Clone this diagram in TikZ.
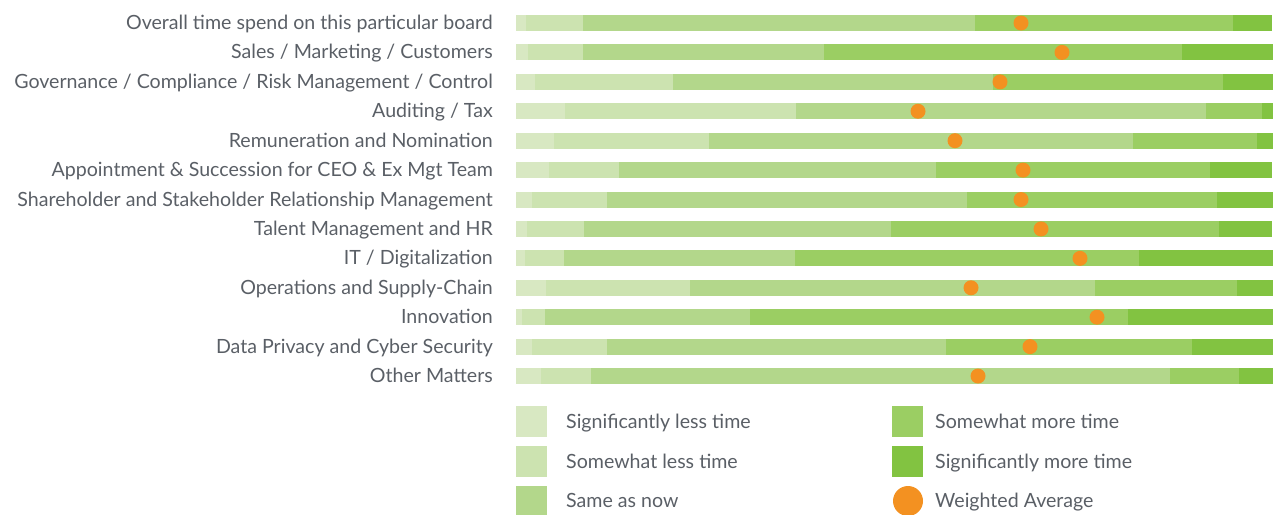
\documentclass[tikz,border=0pt]{standalone}
\usepackage{fontspec}
\setmainfont{Lato}
\usetikzlibrary{positioning}

\definecolor{sigless}{HTML}{D8E8C2}
\definecolor{someless}{HTML}{CCE3B0}
\definecolor{samenow}{HTML}{B3D78B}
\definecolor{somemore}{HTML}{9BCE63}
\definecolor{sigmore}{HTML}{82C341}
\definecolor{avgorange}{HTML}{F39121}
\definecolor{labelgray}{HTML}{5A5F66}

\begin{document}
\begin{tikzpicture}[x=1pt,y=-1pt,
	rowlabel/.style={anchor=base east,inner sep=0,text=labelgray,font=\fontsize{19.6}{21}\selectfont},
	legtext/.style={anchor=base west,inner sep=0,text=labelgray,font=\fontsize{19.6}{21}\selectfont},
	avgdot/.style={circle,fill=avgorange,inner sep=0,minimum size=15pt},
	legkey/.style={inner sep=0,minimum size=31pt}]
	\useasboundingbox (0,0) rectangle (1279,514);
	\clip (0,0) rectangle (1279,514);

	% one bar per topic: ends of the five parts, then the weighted average
	\foreach \i/\lbl/\a/\b/\c/\d/\e/\avg in {
		1/{Overall time spend on this particular board}/526/583/975/1233/1272/1021,
		2/{Sales / Marketing / Customers}/528/583/824/1182/1273/1062,
		3/{Governance / Compliance / Risk Management / Control}/535/673/993/1223/1273/1000,
		4/{Auditing / Tax}/565/796/1206/1262/1273/918,
		5/{Remuneration and Nomination}/554/709/1133/1257/1273/955,
		6/{Appointment \& Succession for CEO \& Ex Mgt Team}/549/619/936/1210/1272/1023,
		7/{Shareholder and Stakeholder Relationship Management}/532/607/967/1217/1273/1021,
		8/{Talent Management and HR}/527/584/891/1219/1272/1041,
		9/{IT / Digitalization}/525/564/795/1139/1273/1080,
		10/{Operations and Supply-Chain}/546/690/1095/1237/1273/971,
		11/{Innovation}/522/545/750/1128/1273/1097,
		12/{Data Privacy and Cyber Security}/532/607/946/1192/1273/1030,
		13/{Other Matters}/541/591/1170/1239/1273/978}
	{
		\pgfmathsetmacro\y{23+29.42*(\i-1)}
		\fill[sigless] (516,\y-8) rectangle (\a,\y+8);
		\fill[someless] (\a,\y-8) rectangle (\b,\y+8);
		\fill[samenow] (\b,\y-8) rectangle (\c,\y+8);
		\fill[somemore] (\c,\y-8) rectangle (\d,\y+8);
		\fill[sigmore] (\d,\y-8) rectangle (\e,\y+8);
		\node[rowlabel] (lbl\i) at (493,\y+6.5) {\lbl};
		\node[avgdot] (avg\i) at (\avg,\y) {};
	}

	% legend
	\node[legkey,fill=sigless] (keysl) at (531.5,421.5) {};
	\node[legkey,fill=someless] (keywl) at (531.5,461.5) {};
	\node[legkey,fill=samenow] (keysame) at (531.5,501.5) {};
	\node[legkey,fill=somemore] (keywm) at (907.5,421.5) {};
	\node[legkey,fill=sigmore] (keysm) at (907.5,461.5) {};
	\node[avgdot,minimum size=30pt] (keyavg) at (908,501) {};

	\node[legtext] (txtsl) at (566,428) {Significantly less time};
	\node[legtext] (txtwl) at (566,468) {Somewhat less time};
	\node[legtext] (txtsame) at (566,507) {Same as now};
	\node[legtext] (txtwm) at (935,428) {Somewhat more time};
	\node[legtext] (txtsm) at (935,468) {Significantly more time};
	\node[legtext] (txtavg) at (935,507) {Weighted Average};
\end{tikzpicture}
\end{document}
